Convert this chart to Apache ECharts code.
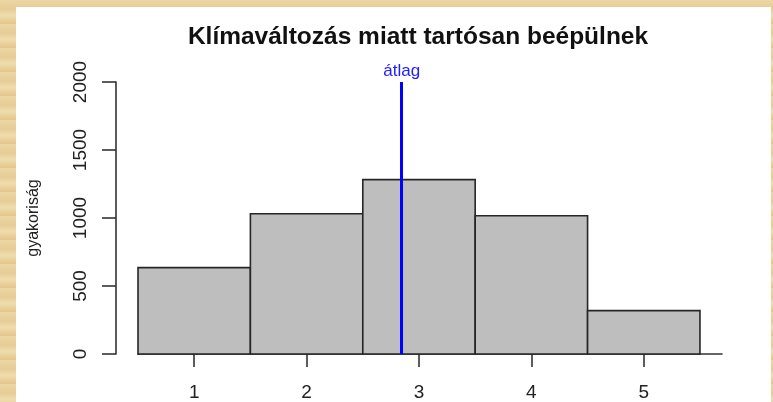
<!DOCTYPE html>
<html>
<head>
<meta charset="utf-8">
<script src="https://cdn.jsdelivr.net/npm/echarts@6/dist/echarts.min.js"></script>
<style>
  html, body { margin: 0; padding: 0; }
  body {
    width: 773px; height: 402px; overflow: hidden;
    background: repeating-linear-gradient(180deg, #ecd7a4 0px, #e6cc94 9px, #efdcae 15px, #e4c68c 24px);
    position: relative;
  }
  #hist {
    position: absolute; left: 16px; top: 7px;
    width: 755px; height: 395px; background: #fff;
  }
</style>
</head>
<body>
<div id="hist"></div>
<script>
	// értékek
	var categories = [1, 2, 3, 4, 5];
	var counts = [635, 1031, 1282, 1017, 319];
	var meanValue = 2.846;
	var yMin = 0, yMax = 2000, yStep = 500;

	var chart = echarts.init(document.getElementById('hist'));

	var barData = [];
	for (var i = 0; i < categories.length; i++) {
		barData.push([categories[i], counts[i]]);
	}

	function drawBar(params, api) {
		var x = api.value(0), v = api.value(1);
		var p0 = api.coord([x - 0.5, 0]);
		var p1 = api.coord([x + 0.5, v]);
		return {
			type: 'rect',
			shape: { x: p0[0], y: p1[1], width: p1[0] - p0[0], height: p0[1] - p1[1] },
			style: { fill: '#bebebe', stroke: '#262626', lineWidth: 1.6 }
		};
	}

	chart.setOption({
		animation: false,
		title: {
			text: 'Klímaváltozás miatt tartósan beépülnek',
			left: 397,
			top: 13,
			textAlign: 'center',
			textStyle: { fontFamily: 'Liberation Sans', fontWeight: 'bold', fontSize: 24.5, color: '#111' }
		},
		grid: { left: 122, right: 49, top: 75, bottom: 46 },
		xAxis: {
			type: 'value',
			min: 0.5,
			max: 5.696,
			splitLine: { show: false },
			axisLine: { show: true, onZero: false, lineStyle: { color: '#333', width: 1.6 } },
			axisTick: { show: true, length: 13, customValues: categories, lineStyle: { color: '#333', width: 1.6 } },
			axisLabel: { customValues: categories, margin: 29, fontFamily: 'Liberation Sans', fontSize: 19, color: '#222' }
		},
		yAxis: {
			type: 'value',
			min: yMin,
			max: yMax,
			interval: yStep,
			offset: 22,
			name: 'gyakoriság',
			nameLocation: 'middle',
			nameGap: 74,
			nameTextStyle: { fontFamily: 'Liberation Sans', fontSize: 16, color: '#222' },
			splitLine: { show: false },
			axisLine: { show: true, lineStyle: { color: '#333', width: 1.6 } },
			axisTick: { show: true, length: 14, lineStyle: { color: '#333', width: 1.6 } },
			axisLabel: {
				rotate: 90, margin: 26, fontFamily: 'Liberation Sans', fontSize: 19, color: '#222',
				formatter: function (v) { return String(v); }
			}
		},
		series: [
			{
				type: 'custom',
				renderItem: drawBar,
				data: barData,
				encode: { x: 0, y: 1 },
				markLine: {
					silent: true,
					symbol: ['none', 'none'],
					lineStyle: { color: '#0000ff', width: 3, type: 'solid' },
					label: {
						show: true, position: 'end', distance: 2,
						formatter: 'átlag',
						fontFamily: 'Liberation Sans', fontSize: 17, color: '#2020ff'
					},
					data: [[{ coord: [meanValue, yMin] }, { coord: [meanValue, yMax] }]]
				}
			}
		]
	});
</script>
</body>
</html>
